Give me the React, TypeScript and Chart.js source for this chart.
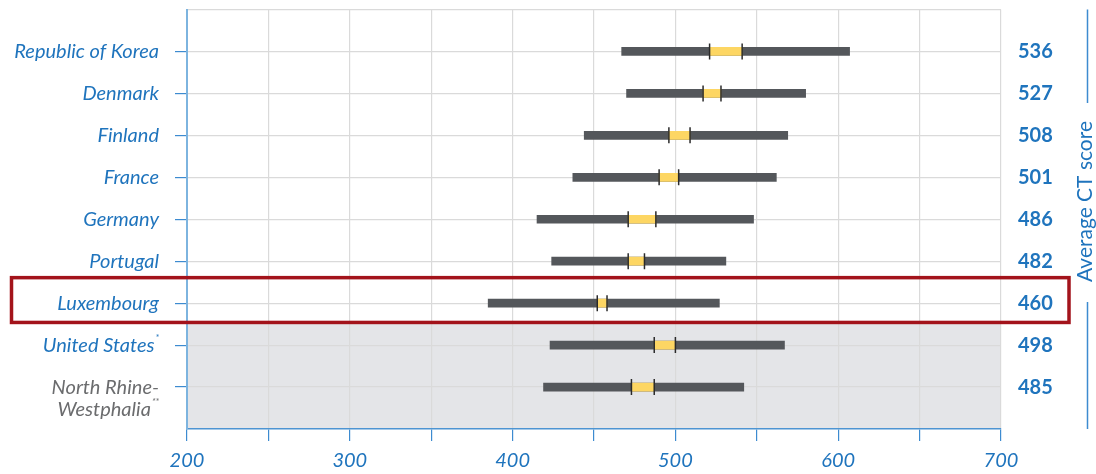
import React, { useEffect, useRef } from 'react';
import { Chart, registerables } from 'chart.js';

Chart.register(...registerables);

// ---- data ----
const countries = [
  'Republic of Korea',
  'Denmark',
  'Finland',
  'France',
  'Germany',
  'Portugal',
  'Luxembourg',
  'United States',
  'North Rhine-Westphalia',
];
const footnotes = ['', '', '', '', '', '', '', '*', '**'];
const averageScores = [536, 527, 508, 501, 486, 482, 460, 498, 485];
const rangeLow = [467, 470, 444, 437, 415, 424, 385, 423, 419];
const rangeHigh = [607, 580, 569, 562, 548, 531, 527, 567, 542];
const ciLow = [521, 517, 496, 490, 471, 471, 452, 487, 473];
const ciHigh = [541, 528, 509, 502, 488, 481, 458, 500, 487];
const xTickLabels = [200, 300, 400, 500, 600, 700];
const axisTitle = 'Average CT score';
const highlightedIndex = 6;
const comparisonStartIndex = 7;

const BLUE = '#1f74bd';
const AXIS_BLUE = '#3d8bd0';
const GRID = '#dadada';
const FONT = 'Lato, "Open Sans", sans-serif';

const splitName = (name: string): string[] => {
  const idx = name.indexOf('-');
  return idx >= 0 ? [name.slice(0, idx + 1), name.slice(idx + 1)] : [name];
};

const decorPlugin = {
  id: 'decor',
  beforeDraw(chart: any) {
    const { ctx, chartArea } = chart;
    const y = chart.scales.y;
    ctx.save();
    ctx.fillStyle = '#e4e5e8';
    const top = y.getPixelForValue(comparisonStartIndex - 0.5) - 1.5;
    ctx.fillRect(chartArea.left, top, chartArea.right - chartArea.left, chartArea.bottom - top);
    ctx.restore();
  },
  afterDraw(chart: any) {
    const { ctx, chartArea } = chart;
    const y = chart.scales.y;
    ctx.save();
    // left labels
    const rightEdge = 159;
    countries.forEach((name, i) => {
      const lines = splitName(name);
      const cy = y.getPixelForValue(i);
      const isRegion = i === countries.length - 1;
      ctx.fillStyle = isRegion ? '#6b6c6e' : BLUE;
      ctx.textBaseline = 'middle';
      lines.forEach((line, li) => {
        const ly = cy + li * 22;
        const sup = li === lines.length - 1 ? footnotes[i] : '';
        ctx.font = `italic 9px ${FONT}`;
        const supW = sup ? ctx.measureText(sup).width + 1 : 0;
        ctx.font = `italic 20px ${FONT}`;
        ctx.textAlign = 'right';
        ctx.fillText(line, rightEdge - supW, ly);
        if (sup) {
          ctx.font = `italic 9px ${FONT}`;
          ctx.textAlign = 'left';
          ctx.fillText(sup, rightEdge - supW + 1, ly - 7);
        }
      });
    });
    // highlight rectangle
    const cyH = y.getPixelForValue(highlightedIndex);
    ctx.strokeStyle = '#a3131b';
    ctx.lineWidth = 3.5;
    ctx.strokeRect(11.5, cyH - 25.5, 1069 - 11.5, 44.8);
    // right title with lines
    const tx = 1085;
    const ty = chartArea.top + 192;
    ctx.font = `21px ${FONT}`;
    const tw = ctx.measureText(axisTitle).width;
    ctx.translate(tx, ty);
    ctx.rotate(-Math.PI / 2);
    ctx.textAlign = 'center';
    ctx.textBaseline = 'middle';
    ctx.fillStyle = BLUE;
    ctx.fillText(axisTitle, 0, 0);
    ctx.setTransform(1, 0, 0, 1, 0, 0);
    ctx.strokeStyle = AXIS_BLUE;
    ctx.lineWidth = 1.5;
    ctx.beginPath();
    ctx.moveTo(1087.5, chartArea.top);
    ctx.lineTo(1087.5, ty - tw / 2 - 18);
    ctx.moveTo(1087.5, ty + tw / 2 + 20);
    ctx.lineTo(1087.5, chartArea.bottom);
    ctx.stroke();
    ctx.restore();
  },
};

export default function App() {
  const ref = useRef<HTMLCanvasElement>(null);

  useEffect(() => {
    if (!ref.current) return;
    const chart = new Chart(ref.current, {
      type: 'bar',
      data: {
        datasets: [
          {
            type: 'scatter',
            data: [
              ...ciLow.map((v, i) => ({ x: v, y: i })),
              ...ciHigh.map((v, i) => ({ x: v, y: i })),
            ],
            pointStyle: 'line',
            rotation: 90,
            radius: 8,
            borderColor: '#2a2a2a',
            borderWidth: 1.5,
            backgroundColor: '#2a2a2a',
          } as any,
          {
            type: 'bar',
            indexAxis: 'y',
            grouped: false,
            data: ciLow.map((v, i) => ({ x: [v, ciHigh[i]], y: i })),
            backgroundColor: '#fdd663',
            barThickness: 8,
            borderWidth: 0,
          } as any,
          {
            type: 'bar',
            indexAxis: 'y',
            grouped: false,
            data: rangeLow.map((v, i) => ({ x: [v, rangeHigh[i]], y: i })),
            backgroundColor: '#54575b',
            barThickness: 8,
            borderWidth: 0,
          } as any,
        ],
      },
      options: {
        responsive: false,
        animation: false,
        devicePixelRatio: 1,
        layout: { padding: { top: 9, left: 0, right: 0, bottom: 0 } },
        plugins: { legend: { display: false }, tooltip: { enabled: false } },
        scales: {
          x: {
            type: 'linear',
            min: 200,
            max: 700,
            offset: false,
            grid: {
              offset: false,
              color: (c: any) => (c.tick && c.tick.value === 200 ? 'transparent' : GRID),
              lineWidth: 1.2,
              tickColor: AXIS_BLUE,
              tickLength: 12,
              drawTicks: true,
            },
            border: { color: '#4d94d2', width: 1.5 },
            ticks: {
              stepSize: 50,
              autoSkip: false,
              maxRotation: 0,
              padding: 8,
              color: BLUE,
              font: { family: FONT, size: 20, style: 'italic' },
              callback: (v: any) => (xTickLabels.includes(Number(v)) ? String(v) : ''),
            },
            afterFit: (s: any) => {
              s.height = 45;
              s.paddingLeft = 0;
              s.paddingRight = 0;
            },
          },
          y: {
            type: 'linear',
            position: 'left',
            min: -1,
            max: 9,
            reverse: true,
            offset: false,
            grid: {
              offset: false,
              color: (c: any) => (c.tick && c.tick.value === 9 ? 'transparent' : GRID),
              lineWidth: 1.2,
              tickColor: (c: any) =>
                c.tick && (c.tick.value === -1 || c.tick.value === 9) ? 'transparent' : AXIS_BLUE,
              tickLength: 12,
            },
            border: { color: '#7db4df', width: 2 },
            ticks: { stepSize: 1, display: false },
            afterFit: (s: any) => {
              s.width = 187;
              s.paddingTop = 0;
              s.paddingBottom = 0;
            },
          },
          y2: {
            type: 'linear',
            position: 'right',
            min: -1,
            max: 9,
            reverse: true,
            grid: { display: false, drawTicks: false },
            border: { display: false },
            ticks: {
              stepSize: 1,
              padding: 17,
              color: BLUE,
              font: { family: FONT, size: 20, weight: 'bold' },
              callback: (v: any) => {
                const n = Number(v);
                return n >= 0 && n < averageScores.length ? String(averageScores[n]) : '';
              },
            },
            afterFit: (s: any) => {
              s.width = 95;
              s.paddingTop = 0;
              s.paddingBottom = 0;
            },
          },
        },
      } as any,
      plugins: [decorPlugin],
    });
    return () => chart.destroy();
  }, []);

  return (
    <div style={{ position: 'fixed', left: 0, top: 0, width: 1096, height: 474, background: '#fff' }}>
      <canvas ref={ref} width={1096} height={474} style={{ display: 'block' }} />
    </div>
  );
}
